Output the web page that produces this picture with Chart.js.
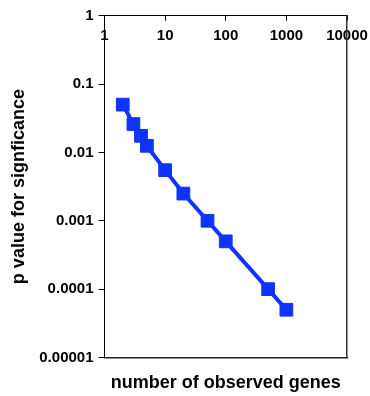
<!DOCTYPE html>
<html>
<head>
<meta charset="utf-8">
<script src="https://cdn.jsdelivr.net/npm/chart.js@4/dist/chart.umd.min.js"></script>
<style>
  html, body { margin: 0; padding: 0; background: #fff; }
  #wrap { width: 370px; height: 396px; }
</style>
</head>
<body>
<div id="wrap"><canvas id="pChart"></canvas></div>
<script>
// data
const genes = [2, 3, 4, 5, 10, 20, 50, 100, 500, 1000];
const pValues = [0.05, 0.026, 0.0175, 0.0125, 0.0055, 0.0025, 0.001, 0.0005, 0.0001, 0.00005];

const xTicks = [1, 10, 100, 1000, 10000];
const xTickLabels = ['1', '10', '100', '1000', '10000'];
const yTicks = [1, 0.1, 0.01, 0.001, 0.0001, 0.00001];
const yTickLabels = ['1', '0.1', '0.01', '0.001', '0.0001', '0.00001'];

Chart.defaults.font.family = "'Liberation Sans', Arial, sans-serif";
Chart.defaults.font.weight = 'bold';
Chart.defaults.color = '#000';

const blue = '#1034ff';
const tickFont = {size: 15, weight: 'bold'};
const titleFont = {size: 18, weight: 'bold'};

const ctx = document.getElementById('pChart').getContext('2d');

const chart = new Chart(ctx, {
    type: 'scatter',
    data: {
        datasets: [{
            label: 'p value',
            data: genes.map((g, i) => ({x: g, y: pValues[i]})),
            showLine: true,
            borderColor: blue,
            backgroundColor: blue,
            borderWidth: 4,
            pointStyle: 'rect',
            pointRadius: 9,
            pointBorderWidth: 1,
            pointBorderColor: blue,
            pointBackgroundColor: blue,
            clip: false
        }]
    },
    options: {
        responsive: true,
        maintainAspectRatio: false,
        animation: false,
        layout: {padding: {left: 0, top: 0, right: 23, bottom: 0}},
        plugins: {legend: {display: false}, tooltip: {enabled: false}},
        scales: {
            x: {
                type: 'logarithmic',
                position: 'top',
                min: 1, max: 10000,
                afterBuildTicks: s => { s.ticks = xTicks.map(v => ({value: v})); },
                afterFit: s => { s.height = 15.7; s.paddingLeft = 0; s.paddingRight = 0; },
                ticks: {
                    font: tickFont, color: '#000',
                    autoSkip: false, maxRotation: 0,
                    mirror: true,
                    padding: 11,
                    callback: (v, i) => xTickLabels[i]
                },
                grid: {drawOnChartArea: false, tickLength: -5, color: '#000', tickWidth: 1},
                border: {display: true, color: '#000', width: 1}
            },
            xb: {
                type: 'logarithmic',
                position: 'bottom',
                min: 1, max: 10000,
                afterFit: s => { s.height = 38.5; },
                ticks: {display: false},
                grid: {display: false, drawTicks: false},
                border: {display: true, color: '#222', width: 1.5},
                title: {
                    display: true,
                    text: 'number of observed genes',
                    font: titleFont, color: '#000',
                    padding: {top: 0, bottom: 2}
                }
            },
            y: {
                type: 'logarithmic',
                position: 'left',
                min: 0.00001, max: 1,
                afterBuildTicks: s => { s.ticks = yTicks.map(v => ({value: v})); },
                afterFit: s => { s.width = 104.5; },
                ticks: {
                    font: tickFont, color: '#000',
                    padding: 5,
                    callback: (v, i) => yTickLabels[i]
                },
                grid: {drawOnChartArea: false, tickLength: 6, color: '#000'},
                border: {display: true, color: '#000', width: 1},
                title: {
                    display: true,
                    text: 'p value for signficance',
                    font: titleFont, color: '#000',
                    padding: {top: 8, bottom: 0}
                }
            },
            y2: {
                type: 'logarithmic',
                position: 'right',
                min: 0.00001, max: 1,
                afterFit: s => { s.width = 0; },
                ticks: {display: false},
                grid: {display: false, drawTicks: false},
                border: {display: true, color: '#333', width: 1.5}
            }
        }
    }
});
</script>
</body>
</html>
